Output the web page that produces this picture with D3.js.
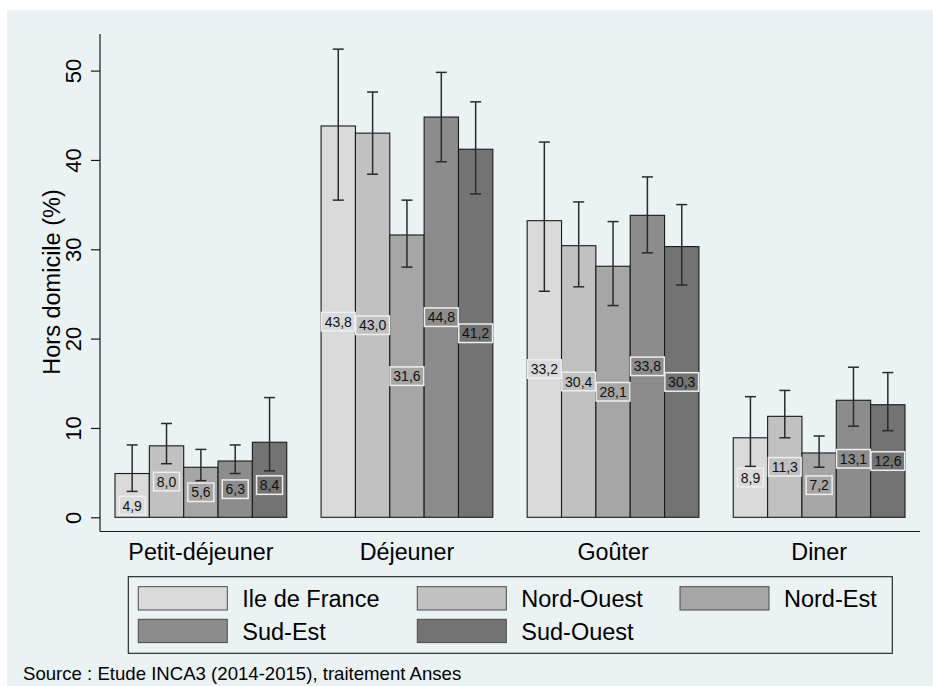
<!DOCTYPE html>
<html>
<head>
<meta charset="utf-8">
<script src="https://cdn.jsdelivr.net/npm/d3@7"></script>
<style>
  html, body { margin: 0; padding: 0; background: #ffffff; }
  svg { display: block; }
  text { font-family: "Liberation Sans", Arial, Helvetica, sans-serif; }
</style>
</head>
<body>
<svg id="chart" width="933" height="686"></svg>
<script>
// ---------------- DATA ----------------
const categories = ["Petit-déjeuner", "Déjeuner", "Goûter", "Diner"];
const regions = ["Ile de France", "Nord-Ouest", "Nord-Est", "Sud-Est", "Sud-Ouest"];

const ileDeFrance = [4.9, 43.8, 33.2, 8.9];
const nordOuest   = [8.0, 43.0, 30.4, 11.3];
const nordEst     = [5.6, 31.6, 28.1, 7.2];
const sudEst      = [6.3, 44.8, 33.8, 13.1];
const sudOuest    = [8.4, 41.2, 30.3, 12.6];

const ileDeFranceLow  = [2.9, 35.5, 25.3, 5.7];
const ileDeFranceHigh = [8.1, 52.4, 42.0, 13.5];
const nordOuestLow    = [6.0, 38.4, 25.8, 8.9];
const nordOuestHigh   = [10.5, 47.6, 35.3, 14.2];
const nordEstLow      = [4.1, 28.0, 23.7, 5.6];
const nordEstHigh     = [7.6, 35.5, 33.1, 9.1];
const sudEstLow       = [4.9, 39.8, 29.6, 10.2];
const sudEstHigh      = [8.1, 49.8, 38.1, 16.8];
const sudOuestLow     = [5.2, 36.2, 26.0, 9.7];
const sudOuestHigh    = [13.4, 46.5, 35.0, 16.2];

const yTicks = [0, 10, 20, 30, 40, 50];
const yTitle = "Hors domicile (%)";
const sourceText = "Source : Etude INCA3 (2014-2015), traitement Anses";

// ---------------- BUILD ----------------
const seriesValues = [ileDeFrance, nordOuest, nordEst, sudEst, sudOuest];
const seriesLow = [ileDeFranceLow, nordOuestLow, nordEstLow, sudEstLow, sudOuestLow];
const seriesHigh = [ileDeFranceHigh, nordOuestHigh, nordEstHigh, sudEstHigh, sudOuestHigh];
const colors = ["#dadada", "#c1c1c1", "#a6a6a6", "#8c8c8c", "#737373"];

const rows = [];
categories.forEach((c, ci) => {
  regions.forEach((r, ri) => {
    rows.push({cat: c, region: r, ri: ri,
      value: seriesValues[ri][ci], low: seriesLow[ri][ci], high: seriesHigh[ri][ci]});
  });
});

const svg = d3.select("#chart");
const FONT = "'Liberation Sans', Arial, Helvetica, sans-serif";

// background
svg.append("rect").attr("x", 7).attr("y", 10).attr("width", 926).attr("height", 676)
  .attr("fill", "#eaf2f3");

const plotLeft = 100, plotRight = 920, plotTop = 34, plotBottom = 531.5;

const x0 = d3.scaleBand().domain(categories).range([115, 905])
  .paddingInner(1/6).paddingOuter(0);
const x1 = d3.scaleBand().domain(regions).range([0, x0.bandwidth()]).padding(0);
const y = d3.scaleLinear().domain([0, 50]).range([517.3, 70.6]);
const color = d3.scaleOrdinal().domain(regions).range(colors);

const fmt = v => d3.format(".1f")(v).replace(".", ",");

// axes lines
svg.append("line").attr("x1", plotLeft).attr("x2", plotLeft)
  .attr("y1", plotTop).attr("y2", plotBottom)
  .attr("stroke", "#1a1a1a").attr("stroke-width", 1.2);
svg.append("line").attr("x1", plotLeft).attr("x2", plotRight)
  .attr("y1", plotBottom).attr("y2", plotBottom)
  .attr("stroke", "#1a1a1a").attr("stroke-width", 1.2);

// y axis via d3
const yAxis = d3.axisLeft(y).tickValues(yTicks).tickSize(9).tickPadding(0)
  .tickFormat(d3.format("d"));
const yG = svg.append("g").attr("transform", `translate(${plotLeft},0)`).call(yAxis);
yG.select(".domain").remove();
yG.selectAll(".tick line").attr("stroke", "#1a1a1a").attr("stroke-width", 1.2);
yG.selectAll(".tick text")
  .attr("x", 0).attr("dy", 0)
  .attr("transform", "translate(-19,0) rotate(-90)")
  .attr("text-anchor", "middle")
  .attr("fill", "#000")
  .style("font-family", FONT).style("font-size", "22px");

// y title
svg.append("text")
  .attr("transform", `translate(60,282) rotate(-90)`)
  .attr("text-anchor", "middle")
  .style("font-family", FONT).style("font-size", "23.5px")
  .attr("fill", "#000")
  .text(yTitle);

// x axis labels via d3
const xAxis = d3.axisBottom(x0).tickSize(0).tickPadding(0);
const xG = svg.append("g").attr("transform", `translate(0,${plotBottom})`).call(xAxis);
xG.select(".domain").remove();
xG.selectAll(".tick text")
  .attr("y", 28.5).attr("dy", 0)
  .attr("fill", "#000")
  .style("font-family", FONT).style("font-size", "23.3px");

// bars
const groups = svg.append("g").selectAll("g").data(categories).join("g")
  .attr("transform", d => `translate(${x0(d)},0)`);

groups.selectAll("rect.bar")
  .data(c => rows.filter(r => r.cat === c))
  .join("rect").attr("class", "bar")
  .attr("x", d => x1(d.region))
  .attr("width", x1.bandwidth())
  .attr("y", d => y(d.value))
  .attr("height", d => y(0) - y(d.value))
  .attr("fill", d => color(d.region))
  .attr("stroke", "#1a1a1a").attr("stroke-width", 1.1);

// error bars
const capW = 11;
const eb = groups.selectAll("g.eb")
  .data(c => rows.filter(r => r.cat === c))
  .join("g").attr("class", "eb")
  .attr("transform", d => `translate(${x1(d.region) + x1.bandwidth()/2},0)`);
eb.append("line").attr("x1", 0).attr("x2", 0)
  .attr("y1", d => y(d.high)).attr("y2", d => y(d.low))
  .attr("stroke", "#2a2a2a").attr("stroke-width", 1.5);
eb.append("line").attr("x1", -capW/2).attr("x2", capW/2)
  .attr("y1", d => y(d.high)).attr("y2", d => y(d.high))
  .attr("stroke", "#2a2a2a").attr("stroke-width", 1.5);
eb.append("line").attr("x1", -capW/2).attr("x2", capW/2)
  .attr("y1", d => y(d.low)).attr("y2", d => y(d.low))
  .attr("stroke", "#2a2a2a").attr("stroke-width", 1.5);

// value labels (centered in bar, pushed below lower cap when overlapping)
const boxH = 18.5;
const lbl = groups.selectAll("g.lbl")
  .data(c => rows.filter(r => r.cat === c))
  .join("g").attr("class", "lbl")
  .attr("transform", d => {
    let cy = (y(d.value) + y(0)) / 2;
    const cap = y(d.low);
    if (cy - boxH/2 < cap + 1) cy = cap + 5 + boxH/2;
    return `translate(${x1(d.region) + x1.bandwidth()/2},${cy})`;
  });
lbl.each(function(d) {
  const g = d3.select(this);
  const t = g.append("text")
    .attr("text-anchor", "middle").attr("dy", "0.36em")
    .style("font-family", FONT).style("font-size", "14px")
    .attr("fill", "#111")
    .text(fmt(d.value));
  const w = t.node().getComputedTextLength() + 6.5;
  g.insert("rect", "text")
    .attr("x", -w/2).attr("y", -boxH/2).attr("width", w).attr("height", boxH)
    .attr("fill", color(d.region))
    .attr("stroke", "#eeeeee").attr("stroke-width", 1.5);
});

// legend
svg.append("rect").attr("x", 128.3).attr("y", 576.7).attr("width", 764).attr("height", 76.6)
  .attr("fill", "none").attr("stroke", "#1a1a1a").attr("stroke-width", 1.1);
const colX = [138.3, 417.3, 680];
const rowY = [586.7, 619.3];
const leg = svg.append("g").selectAll("g").data(regions).join("g")
  .attr("transform", (d, i) => `translate(${colX[i % 3]},${rowY[Math.floor(i / 3)]})`);
leg.append("rect").attr("width", 89).attr("height", 23.3)
  .attr("fill", d => color(d)).attr("stroke", "#4a4a4a").attr("stroke-width", 1);
leg.append("text").attr("x", 104).attr("y", 20.6)
  .style("font-family", FONT).style("font-size", "23.5px")
  .attr("fill", "#000")
  .text(d => d);

// source
svg.append("text").attr("x", 23).attr("y", 680)
  .style("font-family", FONT).style("font-size", "18.6px")
  .attr("fill", "#000")
  .text(sourceText);
</script>
</body>
</html>
